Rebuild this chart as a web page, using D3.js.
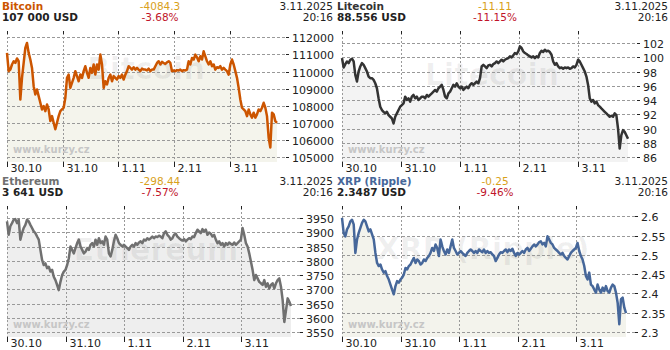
<!DOCTYPE html>
<html>
<head>
<meta charset="utf-8">
<script src="https://cdn.jsdelivr.net/npm/d3@7"></script>
<style>
  body { margin: 0; background: #fff; }
  svg { display: block; font-family: "DejaVu Sans", Verdana, sans-serif; }
</style>
</head>
<body>
<svg id="chart" width="670" height="350"></svg>
<script>
let startTime = new Date(2025, 9, 30, 0, 0);
let endTime = new Date(2025, 10, 3, 20, 16);
let stampDate = "3.11.2025";
let stampTime = "20:16";

let names = ["Bitcoin", "Litecoin", "Ethereum", "XRP (Ripple)"];
let lastPrices = ["107 000 USD", "88.556 USD", "3 641 USD", "2.3487 USD"];
let changes = ["-4084.3", "-11.11", "-298.44", "-0.25"];
let changePcts = ["-3.68%", "-11.15%", "-7.57%", "-9.46%"];

let btcTicks = [105000, 106000, 107000, 108000, 109000, 110000, 111000, 112000];
let ltcTicks = [86, 88, 90, 92, 94, 96, 98, 100, 102];
let ethTicks = [3550, 3600, 3650, 3700, 3750, 3800, 3850, 3900, 3950];
let xrpTicks = [2.3, 2.35, 2.4, 2.45, 2.5, 2.55, 2.6];

// prices sampled evenly from 30.10 00:00 to 3.11 20:16
let btcValues = [
  111090, 110020, 110110, 110410, 110600, 110500, 110760, 110600, 108360, 109630,
  110500, 111380, 111670, 111090, 110700, 110210, 109140, 108660, 108950, 108560,
  108170, 107780, 107980, 107680, 108070, 107780, 107100, 107390, 107000, 106620,
  107000, 107390, 107680, 107780, 107880, 108460, 109630, 109820, 109040, 109340,
  109630, 110020, 109730, 109430, 109820, 109630, 110020, 110310, 109920, 109630,
  110210, 109920, 110410, 109820, 110410, 110110, 110990, 110410, 109040, 109430,
  109240, 109630, 109820, 109430, 109730, 109630, 109530, 109730, 109630, 109820,
  109530, 109820, 110020, 110310, 110210, 110110, 110250, 110110, 110210, 110110,
  110020, 110170, 110110,
  110110, 110060, 110170, 110020, 110110, 110110, 110310, 110500, 110600, 110410,
  110560, 110500, 110440, 110540, 110600, 110500, 110020, 110060, 110020, 110080,
  110060, 110110, 110020, 110080, 110060, 110110, 110600, 110410, 110790, 110700,
  110990, 110830, 110600, 110890, 110700, 111180, 110890, 110600, 110410, 110600,
  110310, 110410, 110110, 110250, 110210, 110310, 110110, 110210, 110110, 110020,
  109820, 110410, 110700, 110410, 110020, 109630, 109040, 108360, 107880, 107780,
  107680, 107390, 107780, 107490, 107300, 107590, 107300, 107490, 107780, 107680,
  107880, 108170, 107880, 107390, 106130, 105560, 107590, 107490, 107100, 107000
];
let ltcValues = [
  99.88, 98.57, 99.04, 99.41, 99.18, 99.65, 99.79, 99.41, 97.53, 96.59,
  98.00, 98.71, 99.18, 98.94, 98.47, 98.00, 97.29, 97.06, 97.06, 96.82,
  96.35, 95.65, 94.24, 93.06, 92.59, 92.35, 92.12, 92.35, 91.88, 91.65,
  91.41, 90.71, 91.65, 92.12, 92.59, 93.06, 93.29, 93.53, 94.47, 94.00,
  94.24, 93.77, 94.47, 94.71, 94.24, 94.47, 94.00, 94.24, 94.47, 94.47,
  94.24, 94.71, 94.47, 94.71, 94.94, 95.18, 95.41, 95.18, 95.65, 95.88,
  96.12, 95.41, 94.47, 94.24, 94.94, 95.18, 95.65, 96.12, 95.88, 96.35,
  95.88, 95.65, 95.88, 95.41, 95.65, 95.88, 95.65, 96.12, 96.35, 96.12,
  96.35, 96.59, 96.35, 97.06, 98.71, 98.94,
  98.71, 98.47, 98.85, 98.94, 98.71, 99.04, 99.18, 99.41, 99.18, 99.41,
  99.65, 99.41, 99.65, 99.79, 99.88, 100.12, 99.98, 100.26, 100.59, 100.45,
  100.82, 101.53, 101.30, 100.82, 100.59, 100.45, 100.26, 100.12, 99.98, 100.12,
  99.88, 100.12, 99.98, 100.59, 100.92, 100.73, 101.06, 100.82, 100.92, 100.73,
  100.35, 99.41, 98.94, 99.18, 98.71, 98.47, 98.57, 98.38, 98.57, 98.47,
  98.57, 98.38, 98.47, 98.71, 98.57, 98.94, 99.65, 99.41, 98.94, 98.47,
  98.00, 97.29, 96.12, 94.24, 93.77, 94.00, 93.53, 93.77, 93.29, 93.06,
  92.82, 92.59, 92.35, 92.12, 91.88, 91.65, 91.79, 91.65, 92.12, 91.88,
  90.00, 87.18, 89.06, 89.77, 89.53, 89.06, 88.56
];
let ethValues = [
  3938, 3891, 3921, 3932, 3944, 3946, 3932, 3944, 3874, 3897,
  3915, 3926, 3944, 3938, 3926, 3915, 3903, 3897, 3885, 3874,
  3838, 3803, 3785, 3791, 3774, 3779, 3762, 3768, 3744, 3732,
  3715, 3697, 3726, 3750, 3762, 3768, 3785, 3809, 3850, 3838,
  3826, 3844, 3862, 3874, 3850, 3838, 3826, 3832, 3844, 3838,
  3856, 3862, 3850, 3874, 3856, 3879, 3862, 3868, 3856, 3885,
  3874, 3826, 3815, 3838, 3868, 3891, 3879, 3862, 3856, 3850,
  3856, 3850, 3844, 3838, 3850, 3856, 3850, 3862, 3856, 3864,
  3868, 3862, 3874, 3871, 3879,
  3874, 3879, 3885, 3879, 3885, 3883, 3888, 3885, 3879, 3897,
  3903, 3891, 3885, 3874, 3879, 3891, 3895, 3885, 3879, 3874,
  3871, 3876, 3868, 3874, 3879, 3876, 3885, 3883, 3897, 3909,
  3903, 3897, 3911, 3903, 3909, 3891, 3899, 3895, 3885, 3891,
  3874, 3862, 3868, 3856, 3862, 3850, 3862, 3856, 3864, 3859,
  3856, 3864, 3856, 3862, 3868, 3874, 3915, 3891, 3862, 3850,
  3826, 3797, 3768, 3732, 3750, 3738, 3726, 3721, 3715, 3732,
  3709, 3721, 3703, 3715, 3721, 3703, 3721, 3732, 3738, 3709,
  3662, 3585, 3626, 3668, 3656, 3641
];
let xrpValues = [
  2.596, 2.557, 2.548, 2.566, 2.574, 2.587, 2.591, 2.579, 2.505, 2.540,
  2.557, 2.570, 2.583, 2.591, 2.587, 2.574, 2.561, 2.566, 2.553, 2.540,
  2.505, 2.479, 2.471, 2.475, 2.462, 2.454, 2.458, 2.445, 2.436, 2.423,
  2.410, 2.398, 2.419, 2.432, 2.428, 2.436, 2.441, 2.449, 2.466, 2.462,
  2.471, 2.475, 2.484, 2.492, 2.479, 2.488, 2.484, 2.475, 2.479, 2.488,
  2.484, 2.492, 2.497, 2.505, 2.518, 2.510, 2.527, 2.518, 2.497, 2.540,
  2.522, 2.510, 2.501, 2.514, 2.505, 2.522, 2.540, 2.518, 2.510, 2.501,
  2.505, 2.510, 2.505, 2.501, 2.497, 2.505, 2.510, 2.514, 2.510, 2.505,
  2.510, 2.505, 2.514, 2.510, 2.507,
  2.514, 2.505, 2.510, 2.505, 2.507, 2.501, 2.497, 2.484, 2.492, 2.501,
  2.507, 2.505, 2.510, 2.514, 2.507, 2.514, 2.510, 2.516, 2.505, 2.497,
  2.505, 2.501, 2.505, 2.510, 2.505, 2.514, 2.518, 2.510, 2.516, 2.522,
  2.527, 2.522, 2.527, 2.533, 2.535, 2.527, 2.531, 2.522, 2.548, 2.540,
  2.531, 2.527, 2.518, 2.514, 2.510, 2.505, 2.501, 2.505, 2.497, 2.492,
  2.488, 2.497, 2.505, 2.510, 2.514, 2.518, 2.531, 2.510, 2.497, 2.488,
  2.471, 2.445, 2.436, 2.454, 2.423, 2.419, 2.410, 2.402, 2.423, 2.410,
  2.402, 2.415, 2.406, 2.419, 2.406, 2.402, 2.415, 2.423, 2.419, 2.402,
  2.376, 2.320, 2.385, 2.389, 2.363, 2.349
];

let seriesValues = [btcValues, ltcValues, ethValues, xrpValues];
let seriesTicks = [btcTicks, ltcTicks, ethTicks, xrpTicks];

// panel layout and look
let panels = [
  {x: 0,   y: 0,   right: 277, top: 37.3, line: "#cc5500", fill: "#f4f4ec", wmX: 146, wmY: 79},
  {x: 335, y: 0,   right: 293, top: 43,   line: "#333333", fill: "#f3f3f3", wmX: 157, wmY: 85},
  {x: 0,   y: 175, right: 291, top: 43,   line: "#707070", fill: "#eeeeee", wmX: 156, wmY: 85},
  {x: 335, y: 175, right: 291, top: 41.3, line: "#46679a", fill: "#f3f3ec", wmX: 148, wmY: 84}
];

let svg = d3.select("#chart");
let dayFormat = d3.timeFormat("%-d.%-m");

function drawPanel(i) {
  let p = panels[i];
  let values = seriesValues[i];
  let ticks = seriesTicks[i];
  let plotLeft = 7, plotTop = 33, plotBottom = 162;

  let g = svg.append("g")
      .attr("transform", "translate(" + p.x + "," + p.y + ")");

  let x = d3.scaleTime()
      .domain([startTime, endTime])
      .range([plotLeft, p.right]);
  let y = d3.scaleLinear()
      .domain(d3.extent(ticks))
      .range([157, p.top]);

  let step = (endTime - startTime) / (values.length - 1);
  let data = values.map(function(v, k) {
    return {t: new Date(+startTime + k * step), v: v};
  });

  // area under line
  let area = d3.area()
      .x(function(d) { return x(d.t); })
      .y0(plotBottom)
      .y1(function(d) { return y(d.v); });
  g.append("path")
      .datum(data)
      .attr("fill", p.fill)
      .attr("d", area);

  // big watermark name
  g.append("text")
      .attr("x", p.wmX)
      .attr("y", p.wmY)
      .attr("text-anchor", "middle")
      .style("font-size", "30px")
      .style("font-weight", "bold")
      .attr("fill", "#000")
      .attr("fill-opacity", 0.06)
      .text(names[i]);

  // vertical day grid
  let days = x.ticks(d3.timeDay.every(1));
  let vg = g.selectAll(".vgrid")
      .data(days)
      .enter().append("g")
      .attr("class", "vgrid")
      .attr("transform", function(d) { return "translate(" + (Math.round(x(d)) + 0.5) + ",0)"; });
  vg.append("line")
      .attr("y1", plotTop).attr("y2", plotBottom)
      .attr("stroke", "#999")
      .attr("stroke-dasharray", "2,2");
  vg.append("line")
      .attr("y1", plotTop - 2).attr("y2", plotTop + 1)
      .attr("stroke", "#222");
  vg.append("line")
      .attr("y1", plotBottom).attr("y2", plotBottom + 5)
      .attr("stroke", "#222");
  vg.append("text")
      .attr("x", 3)
      .attr("y", 171.5)
      .attr("fill", "#222")
      .style("font-size", "11px")
      .text(function(d) { return dayFormat(d); });

  // horizontal value grid
  let hg = g.selectAll(".hgrid")
      .data(ticks)
      .enter().append("g")
      .attr("class", "hgrid")
      .attr("transform", function(d) { return "translate(0," + (Math.round(y(d)) + 0.5) + ")"; });
  hg.append("line")
      .attr("x1", plotLeft).attr("x2", p.right + 9)
      .attr("stroke", "#999")
      .attr("stroke-dasharray", "3,2");
  hg.append("line")
      .attr("x1", p.right + 9).attr("x2", p.right + 12)
      .attr("stroke", "#222");
  hg.append("text")
      .attr("x", p.right + 15)
      .attr("y", 4)
      .attr("fill", "#222")
      .style("font-size", "11px")
      .text(function(d) { return String(d); });

  g.append("text")
      .attr("x", 13)
      .attr("y", 152.5)
      .attr("fill", "#c6c6c6")
      .style("font-size", "10px")
      .style("font-weight", "bold")
      .text("www.kurzy.cz");

  // price line
  let line = d3.line()
      .x(function(d) { return x(d.t); })
      .y(function(d) { return y(d.v); });
  g.append("path")
      .datum(data)
      .attr("fill", "none")
      .attr("stroke", p.line)
      .attr("stroke-width", 2.5)
      .attr("stroke-linejoin", "round")
      .attr("d", line);

  // header, two tight lines
  g.append("text")
      .attr("x", 2).attr("y", 10)
      .attr("fill", p.line)
      .style("font-size", "10.5px").style("font-weight", "bold")
      .text(names[i]);
  g.append("text")
      .attr("x", 2).attr("y", 20.5)
      .attr("fill", "#222")
      .style("font-size", "10.5px").style("font-weight", "bold")
      .text(lastPrices[i]);
  g.append("text")
      .attr("x", 160).attr("y", 10)
      .attr("text-anchor", "middle")
      .attr("fill", "#d9a11a")
      .style("font-size", "10.5px")
      .text(changes[i]);
  g.append("text")
      .attr("x", 160).attr("y", 20.5)
      .attr("text-anchor", "middle")
      .attr("fill", "#c0142a")
      .style("font-size", "10.5px")
      .text(changePcts[i]);
  g.append("text")
      .attr("x", 333).attr("y", 10)
      .attr("text-anchor", "end")
      .attr("fill", "#222")
      .style("font-size", "10.5px")
      .text(stampDate);
  g.append("text")
      .attr("x", 333).attr("y", 20.5)
      .attr("text-anchor", "end")
      .attr("fill", "#222")
      .style("font-size", "10.5px")
      .text(stampTime);
}

for (let i = 0; i < panels.length; i++) {
  drawPanel(i);
}
</script>
</body>
</html>
